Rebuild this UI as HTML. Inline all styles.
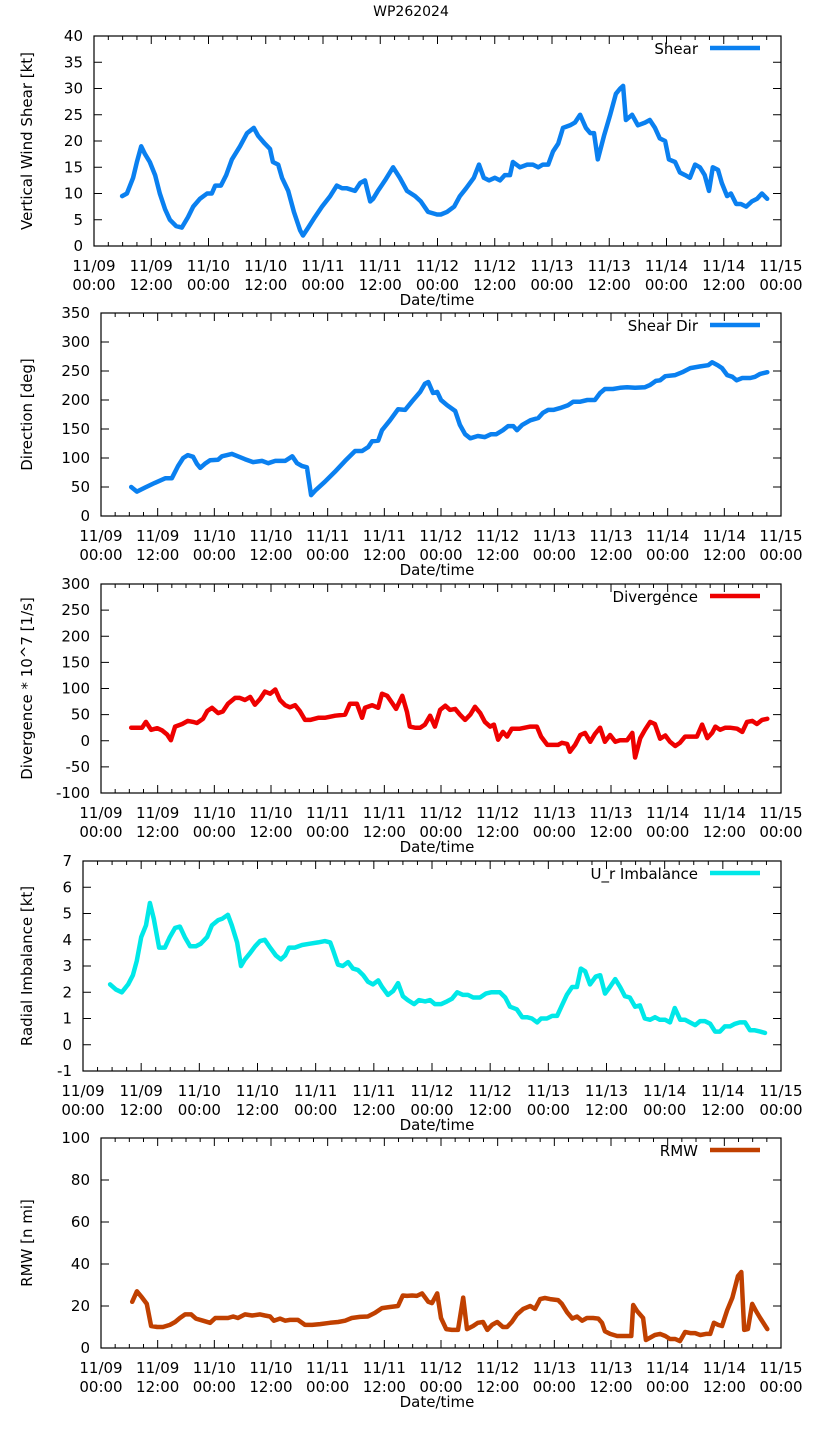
<!DOCTYPE html>
<html><head><meta charset="utf-8"><style>
html,body{margin:0;padding:0;background:#fff}
svg{display:block;font-family:"DejaVu Sans","Liberation Sans",sans-serif}
</style></head><body>
<svg id="chart" width="822" height="1439" viewBox="0 0 822 1439" xmlns="http://www.w3.org/2000/svg">
<rect width="822" height="1439" fill="#fff"/>
<text x="411" y="16" text-anchor="middle" font-size="14">WP262024</text>
</svg>
<script>
// x-axis categories (hours since 11/09 00:00)
const xTickLabels = ["11/09\n00:00","11/09\n12:00","11/10\n00:00","11/10\n12:00","11/11\n00:00","11/11\n12:00","11/12\n00:00","11/12\n12:00","11/13\n00:00","11/13\n12:00","11/14\n00:00","11/14\n12:00","11/15\n00:00"];

const shearHours = [5.9,6.9,8.2,9.0,9.9,10.7,11.7,12.8,13.8,14.9,15.9,17.2,18.4,19.7,20.8,22.2,23.7,24.7,25.4,26.6,27.7,28.9,30.6,32.1,33.5,34.4,35.8,36.9,37.5,38.6,39.4,40.7,41.9,43.2,43.8,44.9,46.3,47.8,49.5,50.9,52.0,53.0,54.7,55.8,56.8,57.9,58.5,59.5,61.0,62.7,64.1,65.6,67.3,68.5,70.0,71.9,72.7,74.0,75.5,76.7,78.0,79.6,80.7,81.7,82.8,84.0,85.1,86.1,87.2,87.8,89.3,90.8,92.0,93.1,94.1,95.2,96.2,97.3,98.3,99.8,100.8,101.9,103.1,104.0,104.8,105.6,106.9,108.2,109.4,110.3,110.9,111.5,112.8,114.0,115.5,116.5,117.6,118.6,119.7,120.5,121.8,122.8,123.9,124.9,126.0,127.0,128.0,128.9,129.7,130.8,131.6,132.7,133.5,134.6,135.6,136.7,137.9,139.0,140.0,141.1];
const shearValues = [9.5,10,13,16,19,17.5,16,13.5,10,7,5,3.8,3.5,5.5,7.5,9,10,10,11.5,11.5,13.5,16.5,19,21.5,22.5,21,19.5,18.5,16,15.5,13,10.5,6.5,3,2,3.5,5.5,7.5,9.5,11.5,11,11,10.5,12,12.5,8.5,9,10.5,12.5,15,13,10.5,9.5,8.5,6.5,6,6,6.5,7.5,9.5,11,13,15.5,13,12.5,13,12.5,13.5,13.5,16,15,15.5,15.5,15,15.5,15.5,18,19.5,22.5,23,23.5,25,22.5,21.5,21.5,16.5,21,25,29,30,30.5,24,25,23,23.5,24,22.5,20.5,20,16.5,16,14,13.5,13,15.5,15,13.5,10.5,15,14.5,12,9.5,10,8,8,7.5,8.5,9,10,9];

const dirHours = [6.4,7.6,9.3,11.4,13.6,15.0,16.3,17.4,18.4,19.5,20.3,21.0,22.0,23.1,24.8,25.6,27.7,29.0,30.5,32.2,34.1,35.4,36.9,39.0,40.5,41.5,42.6,43.6,44.5,45.5,47.4,49.5,51.7,53.8,55.3,56.6,57.4,58.7,59.5,61.2,62.9,64.4,65.9,67.6,68.6,69.3,70.3,71.2,72.0,73.3,75.0,76.0,77.1,78.2,79.8,81.3,82.6,83.7,85.1,86.2,87.3,88.1,89.2,90.9,92.6,93.6,94.7,95.8,97.2,98.9,100.0,101.5,103.0,104.6,105.7,106.7,108.4,109.9,111.4,113.1,115.2,116.3,117.5,118.4,119.5,121.6,123.1,124.8,126.9,128.6,129.4,130.6,131.5,132.6,133.7,134.6,135.8,137.5,138.5,139.6,141.1];
const dirValues = [50,42,49,57,65,65,86,100,105,102,90,83,90,96,97,103,107,103,98,93,95,91,95,95,103,91,86,84,36,45,59,76,95,112,112,119,129,130,148,165,184,183,198,214,228,231,212,214,200,191,181,157,141,134,138,136,141,141,148,155,155,148,157,165,169,178,183,183,186,191,197,197,200,200,212,219,219,221,222,221,222,226,233,234,241,243,248,255,258,260,265,260,255,243,240,234,238,238,240,245,248];

const divHours = [6.4,8.7,9.5,10.6,11.9,12.9,14.0,14.8,15.7,17.2,18.4,19.5,20.3,21.6,22.5,23.5,24.8,25.8,26.9,28.4,29.4,30.5,31.6,32.6,33.7,34.7,35.8,36.9,37.9,39.0,40.0,41.1,42.1,43.2,44.3,46.0,47.4,49.6,51.7,52.7,54.2,55.3,55.9,57.4,58.7,59.5,60.6,61.6,62.5,63.8,64.8,65.4,66.5,67.6,68.6,69.7,70.7,71.8,72.9,73.9,75.0,76.0,77.1,78.2,79.2,80.3,81.3,82.4,83.2,84.1,85.1,86.0,87.0,88.7,90.9,92.3,93.2,94.5,95.5,96.8,97.6,98.7,99.3,100.4,101.5,102.5,103.6,104.6,105.7,106.7,107.8,108.9,109.9,111.4,112.5,113.1,114.2,115.2,116.3,117.3,118.4,119.5,120.5,121.6,122.6,123.7,125.2,126.2,127.3,128.4,129.4,130.1,131.1,132.2,133.2,134.7,135.8,136.8,137.9,138.9,140.0,141.1];
const divValues = [25,25,36,21,24,20,12,1,27,32,38,36,34,42,57,63,53,56,71,82,82,78,84,69,80,94,90,98,78,68,64,68,57,40,40,44,44,48,50,71,71,44,63,68,63,90,86,73,61,86,55,27,25,25,31,48,27,59,67,59,61,50,40,50,65,53,36,27,31,2,17,8,23,23,27,27,8,-8,-8,-8,-4,-6,-21,-8,11,15,-2,13,25,-2,11,-2,1,1,15,-32,5,21,36,32,4,10,-2,-10,-4,8,8,8,31,5,15,27,21,25,25,23,17,36,38,32,40,42];

const urHours = [5.6,6.8,8.0,9.3,10.3,11.1,12.0,13.0,13.8,14.6,15.7,16.9,17.9,19.0,20.0,21.0,22.1,23.3,24.3,25.6,26.6,27.9,28.7,29.9,30.7,31.8,32.6,33.4,34.5,35.5,36.5,37.5,38.6,39.8,40.8,41.7,42.5,43.7,45.2,46.8,48.5,49.9,51.0,51.6,52.6,53.6,54.7,55.7,56.7,57.8,58.8,59.8,60.9,61.7,62.9,64.0,65.0,66.0,67.0,68.3,69.3,70.6,71.6,72.6,73.9,75.1,76.1,77.2,78.4,79.4,80.5,81.9,83.1,84.2,86.0,87.1,88.1,89.5,90.6,91.6,92.6,93.7,94.5,95.7,96.8,97.8,98.8,99.8,100.9,101.9,102.7,103.6,104.6,105.8,106.7,107.7,108.7,109.8,110.8,111.8,112.8,113.9,114.9,115.9,117.0,118.0,119.0,120.1,121.1,122.1,123.2,124.2,125.2,126.3,127.3,128.3,129.4,130.4,131.4,132.4,133.5,134.5,135.5,136.6,137.6,138.6,139.7,140.7];
const urValues = [2.3,2.1,2.0,2.3,2.65,3.2,4.1,4.55,5.4,4.8,3.7,3.7,4.1,4.45,4.5,4.1,3.75,3.75,3.85,4.1,4.55,4.75,4.8,4.95,4.55,3.9,3.0,3.25,3.5,3.75,3.95,4.0,3.7,3.4,3.25,3.4,3.7,3.7,3.8,3.85,3.9,3.95,3.9,3.6,3.05,3.0,3.15,2.9,2.85,2.65,2.4,2.3,2.45,2.2,1.9,2.05,2.35,1.85,1.7,1.55,1.7,1.65,1.7,1.55,1.55,1.65,1.75,2.0,1.9,1.9,1.8,1.8,1.95,2.0,2.0,1.8,1.45,1.35,1.05,1.05,1.0,0.85,1.0,1.0,1.1,1.1,1.5,1.9,2.2,2.2,2.9,2.8,2.3,2.6,2.65,1.95,2.2,2.5,2.2,1.85,1.8,1.45,1.5,1.0,0.95,1.05,0.95,0.95,0.85,1.4,0.95,0.95,0.85,0.75,0.9,0.9,0.8,0.5,0.5,0.7,0.7,0.8,0.85,0.85,0.55,0.55,0.5,0.45];

const rmwHours = [6.6,7.6,8.7,9.7,10.6,11.9,13.1,14.6,15.7,16.7,17.8,19.1,20.1,21.6,23.1,24.2,25.6,26.9,28.0,29.0,30.5,32.0,33.7,34.7,35.8,36.6,37.9,39.0,40.0,41.7,43.2,44.7,46.4,48.5,50.2,51.7,53.1,54.8,56.5,58.0,59.5,61.2,62.9,63.9,64.8,65.9,66.9,68.0,69.3,70.1,71.2,72.0,73.1,74.3,75.6,76.7,77.5,78.8,79.8,80.9,81.8,82.8,83.9,85.1,86.0,87.0,88.1,89.4,90.9,91.9,93.0,94.0,95.1,96.8,97.6,98.7,99.8,100.8,101.9,102.9,104.2,105.3,106.1,106.7,107.8,109.3,111.0,112.3,112.7,113.5,114.8,115.4,116.5,117.3,118.4,119.5,120.5,121.6,122.6,123.7,124.8,125.8,126.9,128.1,129.0,129.8,130.7,131.5,132.6,133.7,134.9,135.6,136.2,137.0,137.9,138.7,139.6,141.1];
const rmwValues = [22,27,24,21,10.5,10,10,11,12.4,14.3,16,16,14,13,12,14.3,14.3,14.3,15,14.3,16,15.5,16,15.5,15,13,14,13,13.4,13.4,11,11,11.4,12,12.4,13,14.3,14.8,15,16.7,19,19.5,20,25,24.8,25,24.8,26,22,21.4,26,14.3,9,8.6,8.6,24,9,10.5,12,12.4,8.6,11,12.4,10,10,12.4,16,18.6,20,18.6,23.3,23.8,23.3,22.8,21,17,14,15,13,14.3,14.3,14,12,8,6.7,5.7,5.7,5.7,20.5,17.6,14.3,3.8,5.2,6.2,6.7,5.7,4.3,4.3,3.3,7.6,7.1,7.1,6.2,6.7,6.7,12,11,10.5,18,24,34.3,36.2,8.6,9,21,17.6,14.3,9];

const shearTicks = [0,5,10,15,20,25,30,35,40];
const dirTicks = [0,50,100,150,200,250,300,350];
const divTicks = [-100,-50,0,50,100,150,200,250,300];
const urTicks = [-1,0,1,2,3,4,5,6,7];
const rmwTicks = [0,20,40,60,80,100];

const NS = "http://www.w3.org/2000/svg";
const svg = document.getElementById('chart');
function mk(tag, attrs, parent){ const e=document.createElementNS(NS,tag); for(const k in attrs) e.setAttribute(k,attrs[k]); (parent||svg).appendChild(e); return e; }

const panels = [
 {key:'shear', L:94,R:781,T:36,B:246, ticks:shearTicks, ylabel:'Vertical Wind Shear [kt]', legend:'Shear', color:'#0a80f0', hours:shearHours, vals:shearValues},
 {key:'direction', L:101,R:781,T:313,B:516, ticks:dirTicks, ylabel:'Direction [deg]', legend:'Shear Dir', color:'#0a80f0', hours:dirHours, vals:dirValues},
 {key:'divergence', L:101,R:781,T:584,B:793, ticks:divTicks, ylabel:'Divergence * 10^7 [1/s]', legend:'Divergence', color:'#ee0000', hours:divHours, vals:divValues},
 {key:'radial-imbalance', L:83,R:781,T:861,B:1071, ticks:urTicks, ylabel:'Radial Imbalance [kt]', legend:'U_r Imbalance', color:'#00e8e8', hours:urHours, vals:urValues},
 {key:'rmw', L:101,R:781,T:1138,B:1348, ticks:rmwTicks, ylabel:'RMW [n mi]', legend:'RMW', color:'#c04000', hours:rmwHours, vals:rmwValues}
];

panels.forEach(p=>{
  const g = mk('g',{});
  
  
  const ymin=p.ticks[0], ymax=p.ticks[p.ticks.length-1];
  const xs = h => p.L + (p.R-p.L)*h/144;
  const ys = v => p.B - (p.B-p.T)*(v-ymin)/(ymax-ymin);
  // y ticks
  p.ticks.forEach(t=>{
    const y=ys(t);
    mk('line',{x1:p.L,x2:p.L+8,y1:y,y2:y,stroke:'#000','stroke-width':1},g);
    mk('line',{x1:p.R,x2:p.R-8,y1:y,y2:y,stroke:'#000','stroke-width':1},g);
    const tl=mk('text',{x:p.L-11,y:y+5,'text-anchor':'end','font-size':15,fill:'#000'},g);
    tl.textContent=t;
    
    
  });
  // x ticks
  for(let h=0;h<=144;h+=3){
    const x=xs(h), len=(h%12===0)?8:4;
    mk('line',{x1:x,x2:x,y1:p.B,y2:p.B-len,stroke:'#000','stroke-width':1},g);
    mk('line',{x1:x,x2:x,y1:p.T,y2:p.T+len,stroke:'#000','stroke-width':1},g);
  }
  xTickLabels.forEach((lab,i)=>{
    const x=xs(i*12); const parts=lab.split('\n');
    const t1=mk('text',{x:x,y:p.B+25,'text-anchor':'middle','font-size':15,fill:'#000'},g); t1.textContent=parts[0];
    
    
    const t2=mk('text',{x:x,y:p.B+44,'text-anchor':'middle','font-size':15,fill:'#000'},g); t2.textContent=parts[1];
    
    
  });
  const xt=mk('text',{x:(p.L+p.R)/2-2+ (94-p.L)*0,y:p.B+59,'text-anchor':'middle','font-size':15,fill:'#000'},g);
  xt.setAttribute('x', 437);
  xt.textContent='Date/time';
  
  
  const yt=mk('text',{x:0,y:0,'text-anchor':'middle','font-size':15,fill:'#000',transform:`translate(32,${(p.T+p.B)/2}) rotate(-90)`},g);
  yt.textContent=p.ylabel;
  
  
  // series
  const pts=p.hours.map((h,i)=>xs(h).toFixed(1)+','+ys(p.vals[i]).toFixed(1)).join(' ');
  const pl=mk('polyline',{points:pts,fill:'none',stroke:p.color,'stroke-width':4.5,'stroke-linejoin':'round','stroke-linecap':'round'},g);
  
  
  // frame
  mk('rect',{x:p.L,y:p.T,width:p.R-p.L,height:p.B-p.T,fill:'none',stroke:'#000','stroke-width':1.2},g);
  // legend
  const lt=mk('text',{x:698,y:p.T+18,'text-anchor':'end','font-size':15,fill:'#000'},g);
  lt.textContent=p.legend;
  
  
  const ll=mk('line',{x1:710,x2:760,y1:p.T+12,y2:p.T+12,stroke:p.color,'stroke-width':4.5},g);
  
  
});
</script>
</body></html>
